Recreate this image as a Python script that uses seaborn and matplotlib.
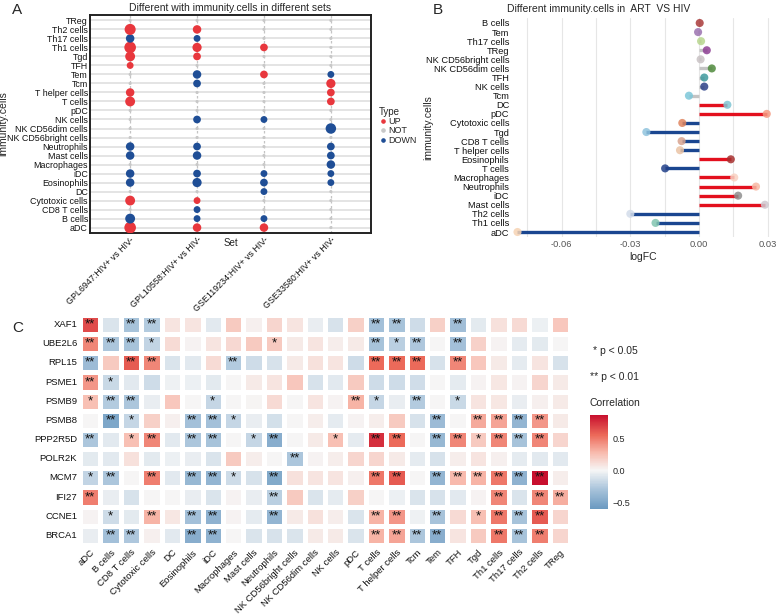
import numpy as np
import pandas as pd
import matplotlib
matplotlib.use("Agg")
import matplotlib.pyplot as plt
from matplotlib.colors import LinearSegmentedColormap
from matplotlib.lines import Line2D
import seaborn as sns

sns.set_style("white")
plt.rcParams["font.family"] = ["Liberation Sans", "DejaVu Sans"]

W, H = 780, 614


def box(x0, y0, x1, y1):
    # pixel box -> figure fraction
    return [x0 / W, 1 - y1 / H, (x1 - x0) / W, (y1 - y0) / H]


# ---------------- panel A data ----------------
cells_a = ["aDC", "B cells", "CD8 T cells", "Cytotoxic cells", "DC", "Eosinophils", "iDC",
           "Macrophages", "Mast cells", "Neutrophils", "NK CD56bright cells", "NK CD56dim cells",
           "NK cells", "pDC", "T cells", "T helper cells", "Tcm", "Tem", "TFH", "Tgd",
           "Th1 cells", "Th17 cells", "Th2 cells", "TReg"]
sets_a = ["GPL6947:HIV+ vs HIV-", "GPL10558:HIV+ vs HIV-",
          "GSE119234:HIV+ vs HIV-", "GSE33580:HIV+ vs HIV-"]
types_gpl6947 = "UDNUNDDNDDNNNNUUNNUUUDUN"
types_gpl10558 = "UDDUNDDNDDNNDNNNDDNUUDUN"
types_gse119234 = "UDNNDDDNNNNNDNNNNUNNUNNN"
types_gse33580 = "NNNNNDDDDDNDNNUUUDNNNNNN"
sizes_gpl6947 = [6, 4.5, 1, 4.5, 1, 3.5, 3.5, 1, 3.5, 3.5, 1, 1, 1, 1, 4.5, 3.5, 1, 1, 2.5, 4.5, 6, 3.5, 5.5, 1]
sizes_gpl10558 = [3.5, 2.5, 2.5, 2.5, 1, 4, 3, 1, 3.5, 3, 1, 1, 3, 1, 1, 1, 3, 3.5, 1, 3, 4, 2.5, 3.5, 1]
sizes_gse119234 = [3.5, 2.5, 1, 1, 2.5, 3, 2.5, 1, 1, 1, 1, 1, 2.5, 1, 1, 1, 1, 3, 1, 1, 3, 1, 1, 1]
sizes_gse33580 = [1, 1, 1, 1, 1, 2.5, 2.5, 3.5, 3, 3, 1, 5, 1, 1, 3, 3, 4, 2.5, 1, 1, 1, 1, 1, 1]
type_names = {"U": "UP", "N": "NOT", "D": "DOWN"}
type_colors = {"UP": "#E8373D", "NOT": "#C8C8C8", "DOWN": "#1F4E96"}

# ---------------- panel B data ----------------
cells_b = ["B cells", "Tem", "Th17 cells", "TReg", "NK CD56bright cells", "NK CD56dim cells",
           "TFH", "NK cells", "Tcm", "DC", "pDC", "Cytotoxic cells", "Tgd", "CD8 T cells",
           "T helper cells", "Eosinophils", "T cells", "Macrophages", "Neutrophils", "iDC",
           "Mast cells", "Th2 cells", "Th1 cells", "aDC"]
logfc_b = [0.0003, -0.0004, 0.0009, 0.0034, 0.0007, 0.0056, 0.0023, 0.0023, -0.0044,
           0.0124, 0.0296, -0.0073, -0.0230, -0.0076, -0.0083, 0.0139, -0.0148, 0.0154,
           0.0249, 0.0171, 0.0288, -0.0300, -0.0190, -0.0793]
status_b = ["NOT"] * 9 + ["UP", "UP", "DOWN", "DOWN", "DOWN", "DOWN", "UP", "DOWN",
                          "UP", "UP", "UP", "UP", "DOWN", "DOWN", "DOWN"]
dot_colors_b = ["#A93A3A", "#9B72B0", "#B8D68E", "#8E3F94", "#C9C2C4", "#4F8A3C",
                "#3F9A9E", "#2E4289", "#7DC7D9", "#7FC6D4", "#F59B82", "#E0855F",
                "#8FC3DD", "#D8A38E", "#EAC3A5", "#A6302F", "#22418A", "#F9D2C2",
                "#F7B9A4", "#8E8E8E", "#CFC8CF", "#D3DCEA", "#82C5AF", "#F6D3B3"]
stem_colors = {"UP": "#E3101E", "DOWN": "#1A4690", "NOT": "#C4C4C4"}

# ---------------- panel C data ----------------
genes = ["XAF1", "UBE2L6", "RPL15", "PSME1", "PSMB9", "PSMB8", "PPP2R5D", "POLR2K",
         "MCM7", "IFI27", "CCNE1", "BRCA1"]
cells_c = ["aDC", "B cells", "CD8 T cells", "Cytotoxic cells", "DC", "Eosinophils", "iDC",
           "Macrophages", "Mast cells", "Neutrophils", "NK CD56bright cells",
           "NK CD56dim cells", "NK cells", "pDC", "T cells", "T helper cells", "Tcm", "Tem",
           "TFH", "Tgd", "Th1 cells", "Th17 cells", "Th2 cells", "TReg"]
xaf1 = [0.65, -0.1, -0.3, -0.25, 0.08, 0.08, -0.08, 0.2, 0.03, 0.15, 0.08, -0.05,
        -0.12, 0.18, -0.32, -0.3, -0.15, 0.18, -0.33, -0.07, 0.1, 0.13, -0.04, 0.22]
ube2l6 = [0.45, -0.28, -0.3, -0.2, 0.12, 0.02, 0.08, 0.14, 0.2, 0.2, 0.06, 0.08,
          0.04, 0.06, -0.3, -0.22, -0.27, 0.0, -0.32, 0.17, 0.02, -0.06, -0.07, 0.0]
rpl15 = [-0.35, 0.2, 0.6, 0.45, -0.1, -0.08, 0.12, -0.25, -0.15, -0.12, 0.06, 0.1,
         0.08, -0.15, 0.55, 0.55, 0.55, -0.12, 0.45, 0.22, 0.06, -0.06, 0.08, -0.12]
psme1 = [0.4, -0.17, -0.08, -0.15, -0.03, -0.04, -0.07, 0.0, 0.06, 0.08, 0.22, -0.12,
         -0.08, 0.2, -0.15, -0.15, -0.14, 0.0, -0.06, 0.02, 0.07, 0.02, 0.15, 0.06]
psmb9 = [0.25, -0.25, -0.28, -0.05, 0.22, 0.0, -0.18, 0.0, 0.01, 0.13, 0.0, 0.08,
         0.02, 0.3, -0.18, -0.05, -0.25, 0.0, -0.17, 0.08, 0.07, -0.05, 0.03, 0.06]
psmb8 = [0.0, -0.5, -0.18, 0.18, 0.03, -0.32, -0.32, -0.18, -0.05, -0.13, 0.0, 0.05,
         -0.06, 0.02, 0.04, 0.2, -0.12, -0.35, 0.0, 0.33, 0.35, -0.4, 0.4, 0.06]
ppp2r5d = [-0.28, -0.08, 0.25, 0.45, -0.08, -0.28, -0.3, 0.0, -0.18, -0.45, 0.0, 0.06,
           0.25, -0.06, 0.75, 0.55, 0.0, -0.38, 0.45, 0.2, 0.45, -0.3, 0.45, 0.15]
polr2k = [-0.07, -0.08, 0.1, -0.07, -0.04, -0.05, -0.1, 0.2, 0.05, 0.0, -0.28, 0.02,
          0.05, 0.15, 0.15, 0.06, -0.06, -0.12, 0.05, 0.08, 0.03, -0.06, -0.08, -0.08]
mcm7 = [-0.2, -0.28, 0.0, 0.48, -0.08, -0.38, -0.4, -0.15, -0.12, -0.48, 0.1, 0.08,
        0.08, 0.03, 0.5, 0.6, 0.0, -0.4, 0.28, 0.3, 0.5, -0.42, 0.85, 0.05]
ifi27 = [0.48, -0.05, -0.12, 0.0, 0.0, -0.05, -0.1, 0.02, -0.05, -0.22, 0.2, -0.1,
         -0.06, 0.18, 0.0, -0.04, -0.1, -0.12, -0.08, 0.02, 0.45, -0.1, 0.45, 0.32]
ccne1 = [0.02, -0.15, -0.07, 0.3, 0.07, -0.32, -0.42, 0.02, -0.06, -0.4, 0.06, 0.1,
         0.04, -0.1, 0.3, 0.4, -0.03, -0.3, 0.13, 0.25, 0.5, -0.3, 0.6, 0.15]
brca1 = [-0.05, -0.32, -0.27, 0.03, -0.08, -0.45, -0.42, 0.0, -0.1, -0.12, -0.1, 0.06,
         0.06, -0.1, 0.3, 0.35, -0.28, -0.45, 0.08, 0.2, 0.5, -0.3, 0.48, 0.15]
# significance level per cell: 0 none, 1 p<0.05, 2 p<0.01
sig_rows = ["202200000000002200200000",
            "222100000100002120200000",
            "202200020000002220200000",
            "210000000000000000000000",
            "122000100000021020100000",
            "021002210000000002022220",
            "201202201200102202212220",
            "000000000020000000000000",
            "120202210200002202222220",
            "200000000200000000002022",
            "010202200200002202012220",
            "022002200000002222002220"]

fig = plt.figure(figsize=(7.8, 6.14), dpi=100)
fig.patch.set_facecolor("white")

# ======================= A =======================
rows = []
for s, types, sizes in zip(sets_a,
                           [types_gpl6947, types_gpl10558, types_gse119234, types_gse33580],
                           [sizes_gpl6947, sizes_gpl10558, sizes_gse119234, sizes_gse33580]):
    for c, t, z in zip(cells_a, types, sizes):
        rows.append((s, c, type_names[t], z))
df_a = pd.DataFrame(rows, columns=["Set", "immunity.cells", "Type", "Size"])

axA = fig.add_axes(box(90, 15, 371, 233))
sns.scatterplot(data=df_a, x="Set", y="immunity.cells", hue="Type", size="Size",
                sizes=(5, 70), size_norm=(1, 6), palette=type_colors,
                hue_order=["UP", "NOT", "DOWN"], legend=False, linewidth=0,
                ax=axA, zorder=3)
axA.set_xlim(-0.6, 3.6)
axA.set_ylim(-0.6, 23.6)
axA.set_axisbelow(True)
axA.grid(axis="y", color="#DCDCDC", lw=1.1)
axA.grid(axis="x", color="#C4C4C4", lw=0.9, ls=(0, (2, 2)))
for sp in axA.spines.values():
    sp.set_color("#222222")
    sp.set_linewidth(1.4)
axA.tick_params(axis="both", length=0, labelsize=6.4, pad=1.5, colors="#111111")
plt.setp(axA.get_xticklabels(), rotation=45, ha="right", rotation_mode="anchor")
axA.set_xlabel("Set", fontsize=7)
axA.xaxis.set_label_coords(0.5, -0.025)
axA.set_ylabel("immunity.cells", fontsize=7.5)
axA.yaxis.set_label_coords(-0.29, 0.5)
axA.set_title("Different with immunity.cells in different sets", fontsize=7.5, pad=3)

handles = [Line2D([], [], marker="o", ls="", color=type_colors[k], markersize=2.3)
           for k in ["UP", "NOT", "DOWN"]]
fig.legend(handles, ["UP", "NOT", "DOWN"], title="Type", loc="upper left",
           bbox_to_anchor=(374 / W, 1 - 102 / H), frameon=False, fontsize=6.5,
           title_fontsize=7, handletextpad=0.1, labelspacing=0.05, borderpad=0,
           handlelength=1.0, alignment="left")

# ======================= B =======================
axB = fig.add_axes(box(512, 18, 775, 237))
axB.hlines(y=cells_b, xmin=0, xmax=logfc_b,
           colors=[stem_colors[s] for s in status_b], lw=2.4, zorder=2)
sns.scatterplot(x=logfc_b, y=cells_b, hue=cells_b,
                palette=dict(zip(cells_b, dot_colors_b)), s=34, alpha=0.85,
                linewidth=0, legend=False, ax=axB, zorder=3)
axB.set_ylim(23.55, -0.55)
axB.set_xlim(-0.0817, 0.0332)
axB.set_xticks([-0.06, -0.03, 0.0, 0.03])
axB.set_xticklabels(["-0.06", "-0.03", "0.00", "0.03"])
axB.set_xticks([-0.075, -0.045, -0.015, 0.015], minor=True)
axB.set_axisbelow(True)
axB.grid(axis="x", which="both", color="#E6E6E6", lw=0.8)
axB.grid(axis="y", visible=False)
for sp in axB.spines.values():
    sp.set_visible(False)
axB.tick_params(axis="both", which="both", length=0, labelsize=6.7, pad=2)
axB.tick_params(axis="x", colors="#555555")
axB.tick_params(axis="y", colors="#111111")
axB.set_xlabel("logFC", fontsize=7.5, labelpad=2)
axB.set_ylabel("immunity.cells", fontsize=7.5)
axB.yaxis.set_label_coords(-0.30, 0.5)
axB.set_title("Different immunity.cells in  ART  VS HIV", fontsize=7.5, loc="left",
              x=-0.02, pad=4)

# ======================= C =======================
corr = pd.DataFrame([xaf1, ube2l6, rpl15, psme1, psmb9, psmb8, ppp2r5d, polr2k,
                     mcm7, ifi27, ccne1, brca1], index=genes, columns=cells_c)
stars = np.array([["", "*", "**"][int(ch)] for row in sig_rows for ch in row]).reshape(corr.shape)

cmap = LinearSegmentedColormap.from_list(
    "corr", [(0.0, "#3D74AE"), (0.15, "#6A99C0"), (0.33, "#A9C4DB"), (0.5, "#F6F6F6"),
             (0.66, "#F8BBAE"), (0.82, "#EC6A5A"), (1.0, "#C8102E")])
axC = fig.add_axes(box(80, 315, 570, 545))
cax = fig.add_axes(box(590, 415, 608, 509))
sns.heatmap(corr, cmap=cmap, vmin=-0.6, vmax=0.86, center=0, annot=stars, fmt="",
            annot_kws={"fontsize": 9.5, "color": "#111111"}, linewidths=2.2,
            linecolor="white", ax=axC, cbar_ax=cax, cbar_kws={"ticks": [-0.5, 0, 0.5]})
axC.tick_params(axis="both", length=0, labelsize=6.8, pad=2, colors="#111111")
plt.setp(axC.get_yticklabels(), rotation=0)
plt.setp(axC.get_xticklabels(), rotation=45, ha="right", rotation_mode="anchor")
axC.set_xlabel("")
axC.set_ylabel("")

cbar = axC.collections[0].colorbar
cbar.outline.set_visible(False)
cbar.ax.tick_params(length=3, width=0.8, color="white", direction="in",
                    labelsize=6.5, pad=3)
cbar.ax.set_yticklabels(["\u22120.5", "0.0", "0.5"])

fig.text(593 / W, 1 - 351 / H, "* p < 0.05", fontsize=7.5, va="center")
fig.text(590 / W, 1 - 377 / H, "** p < 0.01", fontsize=7.5, va="center")
fig.text(589 / W, 1 - 403 / H, "Correlation", fontsize=7.5, va="center")

# panel letters
fig.text(12 / W, 1 - 10 / H, "A", fontsize=11, va="center")
fig.text(433 / W, 1 - 10 / H, "B", fontsize=11, va="center")
fig.text(12 / W, 1 - 328 / H, "C", fontsize=11, va="center")

fig.savefig("out.png", dpi=100, facecolor="white")
